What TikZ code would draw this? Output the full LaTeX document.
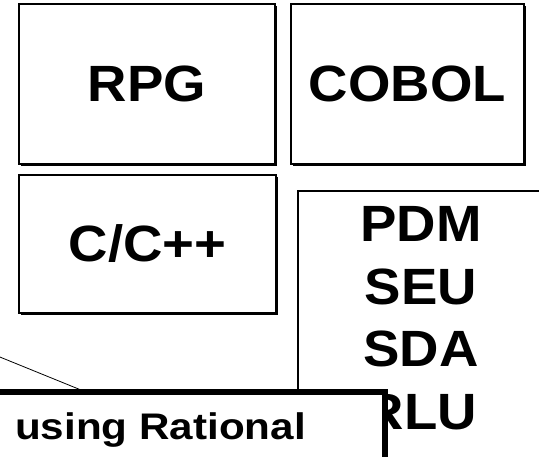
\documentclass[tikz,border=0pt]{standalone}
\usepackage{fontspec}
\setmainfont{Liberation Sans}
\usetikzlibrary{shadows}
\newcommand{\widetxt}[2][1.07]{\scalebox{#1}[1]{#2}}
\begin{document}
\begin{tikzpicture}[x=1pt,y=-1pt,
  langbox/.style={draw=black, line width=2.5pt, fill=white, inner sep=0pt,
    drop shadow={shadow xshift=1.8pt, shadow yshift=-1.8pt, fill=black, opacity=1},
    font=\fontsize{51}{60}\selectfont\bfseries},
  toolbox/.style={draw=black, line width=2.5pt, fill=white, inner sep=0pt},
  toollbl/.style={font=\fontsize{51}{60}\selectfont\bfseries, inner sep=0pt, anchor=base},
  notebox/.style={draw=black, line width=6pt, fill=white, inner sep=0pt},
  notelbl/.style={font=\fontsize{37}{44}\selectfont\bfseries, inner sep=0pt, anchor=base west},
  thin/.style={draw=black, line width=0.8pt}
]
\useasboundingbox (0,0) rectangle (539,457);
\clip (0,0) rectangle (539,457);

\node[langbox, minimum width=256pt, minimum height=160pt] (rpg) at (147,84) {\widetxt{RPG}};
\node[langbox, minimum width=233pt, minimum height=160pt] (cobol) at (407.5,84) {\widetxt{COBOL}};
\node[langbox, minimum width=257pt, minimum height=138pt] (cpp) at (147.5,244) {\widetxt{C/C++}};

\node[toolbox, minimum width=262pt, minimum height=290pt] (tools) at (429,336) {};
\node[toollbl] (pdm) at (421,242) {\widetxt{PDM}};
\node[toollbl] (seu) at (421,304.5) {\widetxt{SEU}};
\node[toollbl] (sda) at (421,367) {\widetxt{SDA}};
\node[toollbl] (rlu) at (421,429.5) {\widetxt{RLU}};

\node[notebox, minimum width=425pt, minimum height=100pt] (note) at (172.5,442) {};
\node[notelbl] (notetext) at (15,439) {\widetxt[1.14]{using Rational}};

\coordinate (callfrom) at (-10,353);
\coordinate (callto) at (81,390);
\draw[thin] (callfrom) -- (callto);
\end{tikzpicture}
\end{document}
